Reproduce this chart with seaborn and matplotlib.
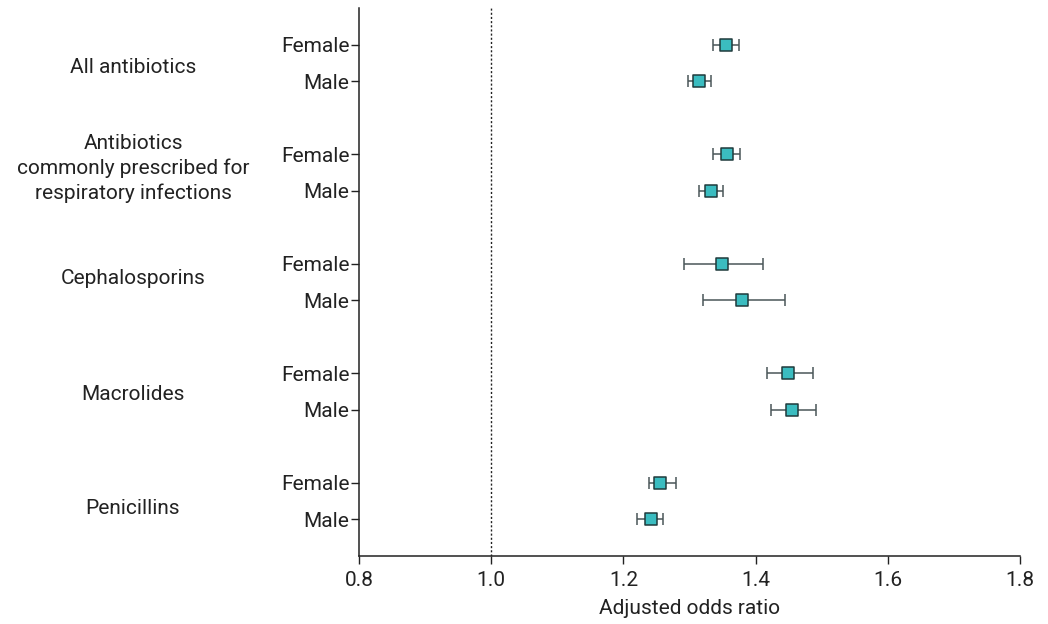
import pandas as pd
import seaborn as sns
import matplotlib.pyplot as plt

groups = ["All antibiotics",
          "Antibiotics\ncommonly prescribed for\nrespiratory infections",
          "Cephalosporins", "Macrolides", "Penicillins"]
sexes = ["Female", "Male"]

# adjusted odds ratio with 95% CI, female then male for each group
aor = [1.355, 1.314, 1.356, 1.333, 1.349, 1.380, 1.449, 1.455, 1.256, 1.241]
ci_low = [1.335, 1.298, 1.335, 1.314, 1.291, 1.320, 1.417, 1.424, 1.238, 1.220]
ci_high = [1.375, 1.333, 1.377, 1.351, 1.411, 1.444, 1.487, 1.491, 1.280, 1.260]

rows = []
for gi, g in enumerate(groups):
    for si, s in enumerate(sexes):
        k = gi * 2 + si
        rows.append({"group": g, "sex": s, "pos": gi * 3 + si,
                     "aor": aor[k], "lo": ci_low[k], "hi": ci_high[k]})
df = pd.DataFrame(rows)

sns.set_style("ticks")
plt.rcParams["font.family"] = ["Roboto", "DejaVu Sans"]
fs = 15

fig = plt.figure(figsize=(10.48, 6.24), dpi=100)
ax = fig.add_axes([0.3426, 0.109, 0.6307, 0.878])

ax.errorbar(df["aor"], df["pos"],
            xerr=[df["aor"] - df["lo"], df["hi"] - df["aor"]],
            fmt="none", ecolor="#4a5658", elinewidth=1.1, capsize=4, capthick=1.1, zorder=2)
sns.scatterplot(data=df, x="aor", y="pos", marker="s", s=85, color="#3bbcc0",
                edgecolor="#1f3a3c", linewidth=1.1, ax=ax, zorder=3, legend=False)

ax.axvline(1.0, color="#222222", linestyle=(0, (1.5, 1.5)), linewidth=1)

ax.set_xlim(0.8, 1.8)
ax.set_ylim(14, -1)
ax.set_xticks([0.8, 1.0, 1.2, 1.4, 1.6, 1.8])
ax.set_xticklabels(["0.8", "1.0", "1.2", "1.4", "1.6", "1.8"])
ax.set_yticks(df["pos"])
ax.set_yticklabels(df["sex"])
ax.tick_params(axis="both", labelsize=fs, color="#222222", labelcolor="#222222", length=6, width=1)
ax.tick_params(axis="x", pad=5)
ax.tick_params(axis="y", pad=1)
ax.set_xlabel("Adjusted odds ratio", fontsize=fs, labelpad=6, color="#222222")
ax.set_ylabel("")
for side in ["top", "right"]:
    ax.spines[side].set_visible(False)
for side in ["left", "bottom"]:
    ax.spines[side].set_color("#222222")
    ax.spines[side].set_linewidth(1.1)

trans = ax.get_yaxis_transform()
label_offsets = [0.63, 0.38, 0.4, 0.58, 0.7]
for gi, g in enumerate(groups):
    ax.text(-0.342, gi * 3 + label_offsets[gi], g, transform=trans, ha="center", va="center",
            fontsize=fs, linespacing=1.35, color="#222222")

fig.savefig("out.png", dpi=100)
